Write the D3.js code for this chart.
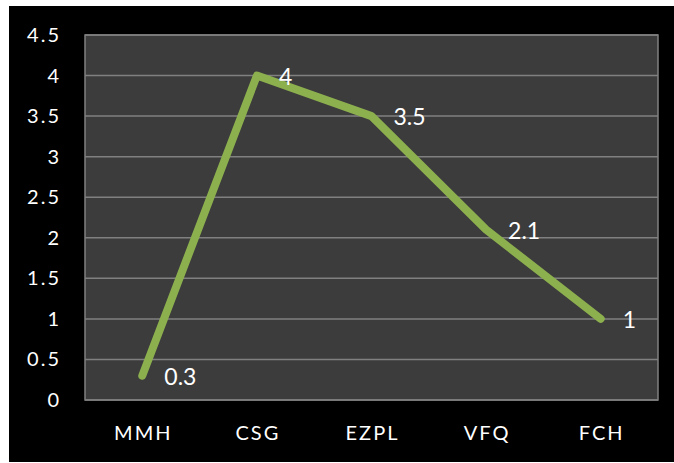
<!DOCTYPE html>
<html>
<head>
<meta charset="utf-8">
<script src="https://cdn.jsdelivr.net/npm/d3@7"></script>
<style>
  body { margin: 0; background: #fff; }
  svg { display: block; }
  text { font-family: Lato, "Open Sans", sans-serif; fill: #fff; }
</style>
</head>
<body>
<svg id="chart" width="674" height="463"></svg>
<script>
const categories = ["MMH", "CSG", "EZPL", "VFQ", "FCH"];
const values = [0.3, 4, 3.5, 2.1, 1];
const yTicks = [0, 0.5, 1, 1.5, 2, 2.5, 3, 3.5, 4, 4.5];

const svg = d3.select("#chart");
const plot = { left: 85, top: 35, right: 658, bottom: 400 };

// black chart background
svg.append("rect")
    .attr("x", 9).attr("y", 6)
    .attr("width", 665).attr("height", 456)
    .attr("fill", "#000");

const x = d3.scaleBand()
    .domain(categories)
    .range([plot.left, plot.right]);

const y = d3.scaleLinear()
    .domain([0, 4.5])
    .range([plot.bottom, plot.top]);

// plot area
svg.append("rect")
    .attr("x", plot.left).attr("y", plot.top)
    .attr("width", plot.right - plot.left).attr("height", plot.bottom - plot.top)
    .attr("fill", "#3c3c3c")
    .attr("stroke", "#808080").attr("stroke-width", 1.5);

// gridlines
svg.append("g")
    .selectAll("line")
    .data(yTicks)
    .join("line")
    .attr("x1", plot.left).attr("x2", plot.right)
    .attr("y1", d => y(d)).attr("y2", d => y(d))
    .attr("stroke", "#808080").attr("stroke-width", 1.5);

// y axis labels
svg.append("g")
    .selectAll("text")
    .data(yTicks)
    .join("text")
    .attr("x", 61)
    .attr("y", d => y(d))
    .attr("dy", "0.35em")
    .attr("text-anchor", "end")
    .attr("font-size", 20)
    .attr("letter-spacing", 2)
    .text(d => d);

// x axis labels
svg.append("g")
    .selectAll("text")
    .data(categories)
    .join("text")
    .attr("x", d => x(d) + x.bandwidth() / 2 + 1)
    .attr("y", 433)
    .attr("dy", "0.35em")
    .attr("text-anchor", "middle")
    .attr("font-size", 20)
    .attr("letter-spacing", 2)
    .text(d => d);

const pts = categories.map((c, i) => ({ cat: c, val: values[i] }));

const line = d3.line()
    .x(d => x(d.cat) + x.bandwidth() / 2)
    .y(d => y(d.val));

svg.append("path")
    .datum(pts)
    .attr("d", line)
    .attr("fill", "none")
    .attr("stroke", "#8db04f")
    .attr("stroke-width", 8)
    .attr("stroke-linecap", "round")
    .attr("stroke-linejoin", "round");

// data labels
svg.append("g")
    .selectAll("text")
    .data(pts)
    .join("text")
    .attr("x", d => x(d.cat) + x.bandwidth() / 2 + 22)
    .attr("y", d => y(d.val) + 1)
    .attr("dy", "0.35em")
    .attr("font-size", 23)
    .text(d => d.val);
</script>
</body>
</html>
